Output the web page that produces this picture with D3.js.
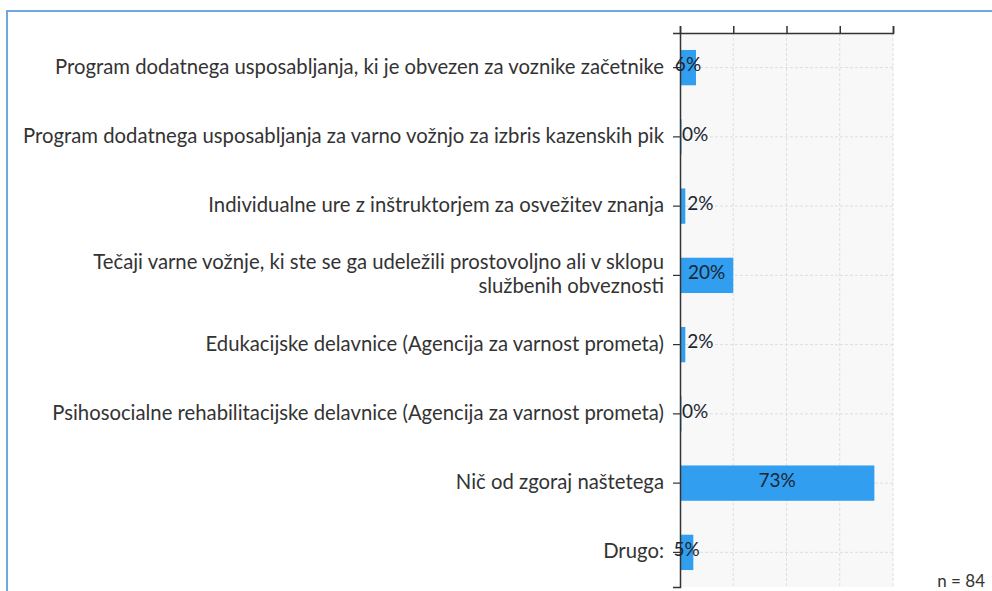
<!DOCTYPE html>
<html>
<head>
<meta charset="utf-8">
<script src="https://cdn.jsdelivr.net/npm/d3@7"></script>
<style>
  html, body { margin: 0; padding: 0; background: #fff; }
  svg { display: block; }
</style>
</head>
<body>
<svg id="chart" width="992" height="591"></svg>
<script>
// Survey answers (one bar per answer), share of respondents in percent
const categories = [
  "Program dodatnega usposabljanja, ki je obvezen za voznike začetnike",
  "Program dodatnega usposabljanja za varno vožnjo za izbris kazenskih pik",
  "Individualne ure z inštruktorjem za osvežitev znanja",
  "Tečaji varne vožnje, ki ste se ga udeležili prostovoljno ali v sklopu|službenih obveznosti",
  "Edukacijske delavnice (Agencija za varnost prometa)",
  "Psihosocialne rehabilitacijske delavnice (Agencija za varnost prometa)",
  "Nič od zgoraj naštetega",
  "Drugo:"
];
const values = [6, 0, 2, 20, 2, 0, 73, 5];
const xTicks = [0, 20, 40, 60, 80];
const sampleNote = "n = 84";

const FONT = "Lato, 'Noto Sans', sans-serif";
const svg = d3.select("#chart");
const W = 992, H = 591;
const plot = { left: 680, right: 893, top: 33, bottom: 587 };

// Frame around the figure
svg.append("path")
  .attr("d", `M7,${H} L7,11 L${W},11`)
  .attr("fill", "none")
  .attr("stroke", "#6fa8e0")
  .attr("stroke-width", 2);

const x = d3.scaleLinear().domain([0, 80]).range([plot.left, plot.right]);
const y = d3.scaleBand().domain(d3.range(categories.length))
  .range([plot.top, plot.bottom]).paddingInner(0.49).paddingOuter(0.245);

// Plot background
svg.append("rect")
  .attr("x", plot.left).attr("y", plot.top)
  .attr("width", plot.right - plot.left).attr("height", plot.bottom - plot.top)
  .attr("fill", "#f8f8f8");

// Dashed grid
const grid = svg.append("g").attr("stroke", "#dedede").attr("stroke-dasharray", "3,2").attr("stroke-width", 1);
grid.selectAll("line.v").data(xTicks.slice(1)).join("line")
  .attr("x1", d => x(d)).attr("x2", d => x(d))
  .attr("y1", plot.top).attr("y2", plot.bottom);
grid.selectAll("line.h").data(d3.range(categories.length)).join("line")
  .attr("x1", plot.left).attr("x2", plot.right)
  .attr("y1", d => y(d) + y.bandwidth() / 2).attr("y2", d => y(d) + y.bandwidth() / 2);

// Bars
svg.append("g").selectAll("rect").data(values).join("rect")
  .attr("x", x(0))
  .attr("y", (d, i) => y(i))
  .attr("width", d => Math.max(1.5, x(d) - x(0)))
  .attr("height", y.bandwidth())
  .attr("fill", "#319ef0");

// Top axis (ticks only)
const topAxis = svg.append("g")
  .attr("transform", `translate(0,${plot.top})`)
  .call(d3.axisTop(x).tickValues(xTicks).tickSize(7).tickFormat(""));
topAxis.select(".domain").attr("stroke", "#333").attr("stroke-width", 1.5);
topAxis.selectAll(".tick line").attr("stroke", "#333").attr("stroke-width", 1.5);

// Left axis with category labels
const leftAxis = svg.append("g")
  .attr("transform", `translate(${plot.left},0)`)
  .call(d3.axisLeft(y).tickSize(7).tickPadding(10).tickFormat(""));
leftAxis.attr("font-family", FONT);
leftAxis.select(".domain").attr("stroke", "#333").attr("stroke-width", 1.5);
leftAxis.selectAll(".tick line").attr("stroke", "#333").attr("stroke-width", 1.2);

leftAxis.selectAll(".tick").each(function (d) {
  const lines = categories[d].split("|");
  const t = d3.select(this).append("text")
    .attr("x", -16)
    .attr("text-anchor", "end")
    .attr("fill", "#333")
    .attr("font-family", FONT)
    .attr("font-size", 20.3);
  const lh = 24;
  lines.forEach((ln, k) => {
    t.append("tspan")
      .attr("x", -16)
      .attr("y", (k - (lines.length - 1) / 2) * lh - 1)
      .attr("dy", "0.35em")
      .text(ln);
  });
});

// Value labels: centred in wide bars, placed after narrow ones
svg.append("g").selectAll("text").data(values).join("text")
  .attr("x", d => d >= 5 ? (x(0) + x(d)) / 2 : x(d) + 2)
  .attr("y", (d, i) => y(i) + y.bandwidth() / 2 - 3)
  .attr("text-anchor", d => d >= 5 ? "middle" : "start")
  .attr("dy", "0.35em")
  .attr("font-family", FONT)
  .attr("font-size", 19)
  .attr("fill", "#1b2633")
  .text(d => d + "%");

// Sample size note
svg.append("text")
  .attr("x", 985).attr("y", 587)
  .attr("text-anchor", "end")
  .attr("font-family", FONT)
  .attr("font-size", 17)
  .attr("fill", "#333")
  .text(sampleNote);
</script>
</body>
</html>
